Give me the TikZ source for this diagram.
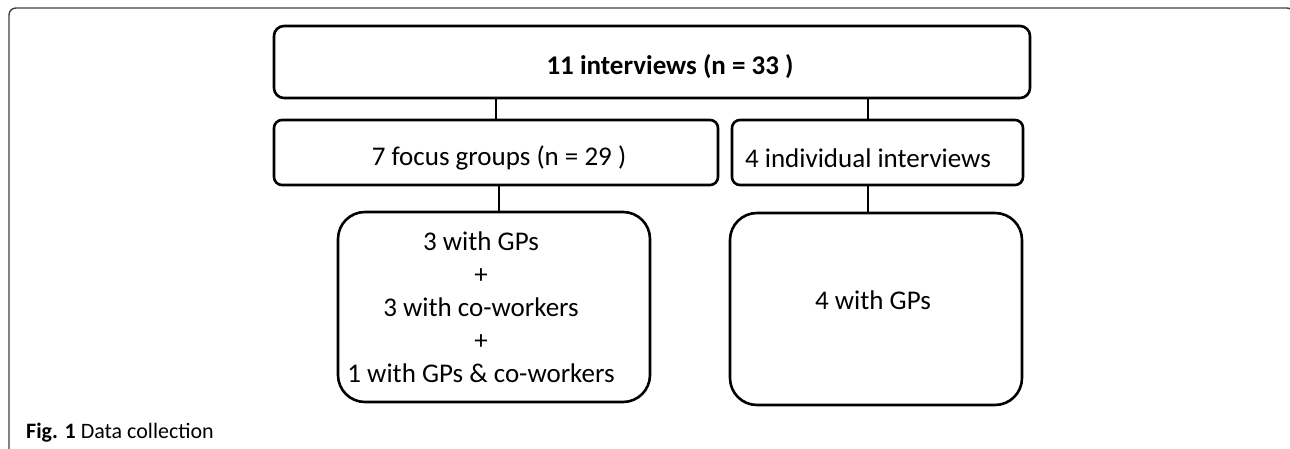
\documentclass[tikz,border=0pt]{standalone}
\usepackage{fontspec}
\setmainfont{Carlito}
\begin{document}
\begin{tikzpicture}[x=1pt,y=-1pt,
        box/.style={draw, line width=2.6pt, inner sep=0pt},
        txt/.style={font=\fontsize{27}{32}\selectfont, inner sep=0pt, align=center},
        link/.style={line width=1.8pt}]
        \useasboundingbox (0,0) rectangle (1290,449);
        % outer frame
        \draw[line width=1.4pt, black!75, rounded corners=7pt] (9,458) rectangle (1294,8);

            \node[box, rounded corners=10pt, minimum width=756pt, minimum height=72pt] (all) at (652,62) {};
            \node[box, rounded corners=8pt, minimum width=444pt, minimum height=65pt] (fg) at (496,152.5) {};
            \node[box, rounded corners=8pt, minimum width=291pt, minimum height=65pt] (ii) at (877.5,152.5) {};
            \node[box, rounded corners=27pt, minimum width=312pt, minimum height=190pt] (gl) at (494,307) {};
            \node[box, rounded corners=27pt, minimum width=292pt, minimum height=192pt] (gr) at (876,309) {};

            \node[txt, font=\fontsize{27}{32}\selectfont\bfseries] (alltext) at (670,67) {11 interviews (n = 33 )};
            \node[txt] (fgtext) at (499,158) {7 focus groups (n = 29 )};
            \node[txt] (iitext) at (868,158) {4 individual interviews};
            \node[txt] (gltext) at (481,307) {3 with GPs\\[1pt]+\\[1pt]3 with co-workers\\[1pt]+\\[1pt]1 with GPs \& co-workers};
            \node[txt] (grtext) at (873,300) {4 with GPs};
            \node[anchor=base west, inner sep=0pt, font=\fontsize{22}{26}\selectfont] (caption) at (26,438) {\textbf{Fig. 1} Data collection};

            \draw[link] (all.south -| fg) -- (fg.north);
            \draw[link] (all.south -| iitext) -- (ii.north -| iitext);
            \draw[link] (fg.south -| fgtext) -- (gl.north -| fgtext);
            \draw[link] (ii.south -| iitext) -- (gr.north -| iitext);
        \end{tikzpicture}
\end{document}
